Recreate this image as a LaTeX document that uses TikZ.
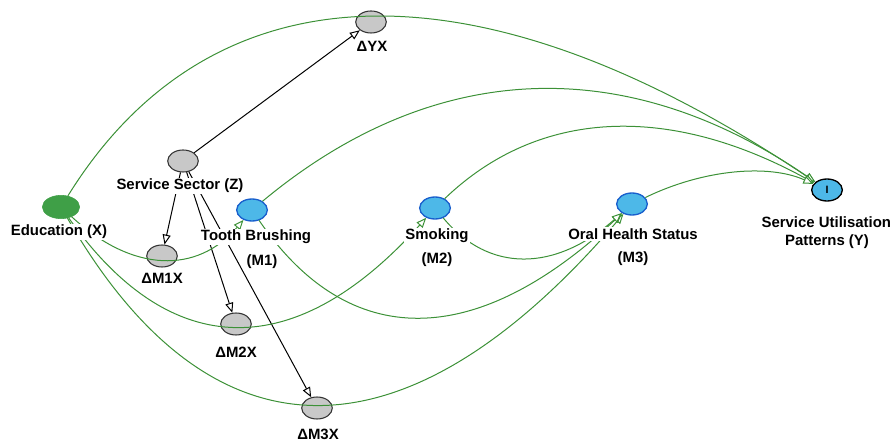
\documentclass[tikz,border=0pt]{standalone}
\usepackage{fontspec}
\setmainfont{Liberation Sans}
\usetikzlibrary{shapes.geometric,arrows.meta}

\definecolor{dagGreen}{RGB}{60,145,55}
\definecolor{dagFill}{RGB}{63,159,71}
\definecolor{medFill}{RGB}{77,184,232}
\definecolor{medLine}{RGB}{25,95,205}
\definecolor{latFill}{RGB}{200,200,200}

\tikzset{
  latent/.style={ellipse,draw=black!80,line width=0.8pt,fill=latFill,minimum width=23pt,minimum height=16.5pt,inner sep=0pt},
  mediator/.style={ellipse,draw=medLine,line width=1pt,fill=medFill,minimum width=23pt,minimum height=16.5pt,inner sep=0pt},
  exposure/.style={ellipse,draw=dagFill,fill=dagFill,minimum width=28pt,minimum height=17.5pt,inner sep=0pt},
  outcome/.style={ellipse,draw=black,line width=1pt,fill=medFill,minimum width=23pt,minimum height=16.5pt,inner sep=0pt,font=\fontsize{8}{8}\selectfont\bfseries},
  causal/.style={draw=dagGreen,line width=0.75pt,-{Triangle[fill=white,length=7.5pt,width=6pt]}},
  adj/.style={draw=black,line width=0.75pt,-{Triangle[fill=white,length=7.5pt,width=6pt]}},
  lbl/.style={fill=white,inner sep=1pt,font=\fontsize{11.2}{13}\selectfont\bfseries}
}

\begin{document}
\begin{tikzpicture}[x=0.75pt,y=0.75pt,yscale=-1,xscale=1]
%uncomment if require: \path (0,442);
\useasboundingbox (0,0) rectangle (890,442);

%Shape: Ellipse
\node[exposure] (X) at (61,207) {};
%Shape: Ellipse
\node[latent] (Z) at (183,161) {};
%Shape: Ellipse
\node[latent] (DYX) at (371,22) {};
%Shape: Ellipse
\node[mediator] (M1) at (252,210) {};
%Shape: Ellipse
\node[latent] (DM1X) at (162,256) {};
%Shape: Ellipse
\node[mediator] (M2) at (435,208) {};
%Shape: Ellipse
\node[mediator] (M3) at (632,204) {};
%Shape: Ellipse
\node[outcome] (Y) at (827,190) {I};
%Shape: Ellipse
\node[latent] (DM2X) at (236,324) {};
%Shape: Ellipse
\node[latent] (DM3X) at (317,408) {};

%Straight Lines
\draw[adj] (Z) -- (DYX);
\draw[adj] (Z) -- (DM1X);
\draw[adj] (Z) -- (DM2X);
\draw[adj] (Z) -- (DM3X);

%Curve Lines
\draw[causal] (X) .. controls +(150,-242) and +(-351,-236) .. (Y);
%Curve Lines
\draw[causal] (M1) .. controls +(179,-149) and +(-204,-140) .. (Y);
%Curve Lines
\draw[causal] (M2) .. controls +(103,-99) and +(-159,-87) .. (Y);
%Curve Lines
\draw[causal] (M3) .. controls +(72,-35) and +(-58,-26) .. (Y);
%Curve Lines
\draw[causal] (X) .. controls +(72,66) and +(-55,64) .. (M1);
%Curve Lines
\draw[causal] (X) .. controls +(110,156) and +(-139,155) .. (M2);
%Curve Lines
\draw[causal] (X) .. controls +(151,262) and +(-225,262) .. (M3);
%Curve Lines
\draw[causal] (M1) .. controls +(97,142) and +(-156,146) .. (M3);
%Curve Lines
\draw[causal] (M2) .. controls +(54,65) and +(-77,68) .. (M3);

% Text Node
\node[lbl] (tX) at (59,232) {Education (X)};
% Text Node
\node[lbl] (tZ) at (180,186) {Service Sector (Z)};
% Text Node
\node[lbl] (tDYX) at (372,46) {ΔYX};
% Text Node
\node[lbl] (tM1) at (256,237) {Tooth Brushing};
% Text Node
\node[lbl] (tM1b) at (262,262) {(M1)};
% Text Node
\node[lbl] (tDM1X) at (162,278) {ΔM1X};
% Text Node
\node[lbl] (tM2) at (437,236) {Smoking};
% Text Node
\node[lbl] (tM2b) at (437,260) {(M2)};
% Text Node
\node[lbl] (tM3) at (633,234) {Oral Health Status};
% Text Node
\node[lbl] (tM3b) at (633,259) {(M3)};
% Text Node
\node[lbl,anchor=west] (tY) at (760,222) {Service Utilisation};
% Text Node
\node[lbl] (tYb) at (827,242) {Patterns (Y)};
% Text Node
\node[lbl] (tDM2X) at (236,352) {ΔM2X};
% Text Node
\node[lbl] (tDM3X) at (318,434) {ΔM3X};

\end{tikzpicture}
\end{document}
